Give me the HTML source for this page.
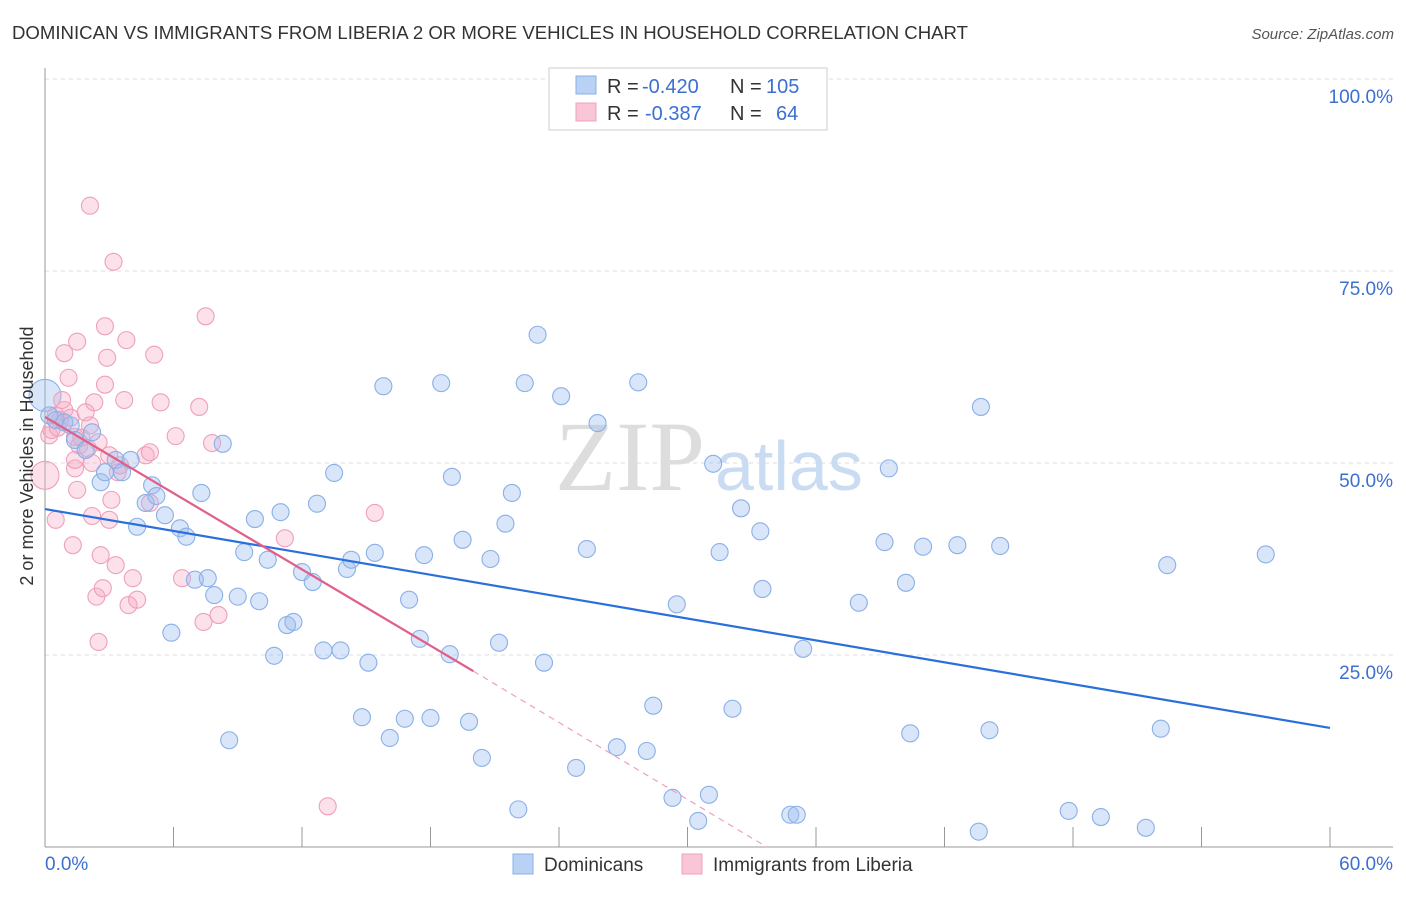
<!DOCTYPE html>
<html><head><meta charset="utf-8"><style>
body{margin:0;background:#fff;font-family:"Liberation Sans",sans-serif}
svg text{font-family:"Liberation Sans",sans-serif}
</style></head><body>
<svg id="chart" width="1406" height="892" xmlns="http://www.w3.org/2000/svg">
<text x="12" y="39" font-size="18.6" fill="#333">DOMINICAN VS IMMIGRANTS FROM LIBERIA 2 OR MORE VEHICLES IN HOUSEHOLD CORRELATION CHART</text>
<text x="1394" y="39" font-size="15" fill="#555" font-style="italic" text-anchor="end">Source: ZipAtlas.com</text>
<g id="grid"></g>
<text x="555" y="490" font-size="100" fill="#ddd" style="font-family:'Liberation Serif',serif">ZIP</text>
<text x="715" y="490" font-size="70" fill="#c9dcf2">atlas</text>
<g id="pts"></g>
<g id="lines"></g>
<text x="33" y="456" font-size="18" fill="#333" text-anchor="middle" transform="rotate(-90 33 456)">2 or more Vehicles in Household</text>
<g>
<rect x="549" y="68" width="278" height="62" fill="#fff" stroke="#ccc"/>
<rect x="576" y="76" width="20" height="18" fill="#b9d1f5" stroke="#8ab0e8"/>
<rect x="576" y="103" width="20" height="18" fill="#f8c6d6" stroke="#eea0bb"/>
<text x="607" y="93" font-size="20" fill="#333">R =</text>
<text x="642" y="93" font-size="20" fill="#3b6fd0">-0.420</text>
<text x="730" y="93" font-size="20" fill="#333">N =</text>
<text x="766" y="93" font-size="20" fill="#3b6fd0">105</text>
<text x="607" y="120" font-size="20" fill="#333">R =</text>
<text x="645" y="120" font-size="20" fill="#3b6fd0">-0.387</text>
<text x="730" y="120" font-size="20" fill="#333">N =</text>
<text x="776" y="120" font-size="20" fill="#3b6fd0">64</text>
</g>
<g>
<rect x="513" y="854" width="20" height="20" fill="#b9d1f5" stroke="#8ab0e8"/>
<text x="544" y="871" font-size="19" fill="#333">Dominicans</text>
<rect x="682" y="854" width="20" height="20" fill="#f8c6d6" stroke="#eea0bb"/>
<text x="713" y="871" font-size="19" fill="#333">Immigrants from Liberia</text>
</g>
</svg>
<script>
const blueX=[0.2,0.5,0.9,1.2,1.4,1.9,2.2,2.6,2.8,3.3,3.6,4.0,4.3,4.7,5.0,5.2,5.6,6.3,6.6,7.0,5.9,7.3,7.6,7.9,8.3,8.6,9.0,9.8,10.0,9.3,10.4,10.7,11.0,11.3,11.6,12.0,12.5,12.7,13.0,13.5,13.8,14.1,14.3,14.8,15.1,15.4,15.8,16.1,16.8,17.0,17.5,17.7,18.0,18.5,18.9,19.0,19.5,19.8,20.4,20.8,21.2,21.5,21.8,22.1,22.4,23.3,24.1,25.3,25.8,26.7,27.7,28.1,28.4,23.0,24.8,29.3,29.5,30.5,31.0,31.2,31.5,32.1,32.5,33.4,33.5,34.8,35.1,35.4,38.0,39.2,39.4,40.2,40.4,41.0,42.6,43.7,43.6,44.1,44.6,47.8,49.3,51.4,52.1,52.4,57.0];
const blueY=[56.2,55.6,55.3,54.9,53.0,51.7,54.0,47.5,48.8,50.4,48.8,50.4,41.7,44.8,47.1,45.7,43.2,41.5,40.4,34.8,27.9,46.1,35.0,32.8,52.5,13.9,32.6,42.7,32.0,38.4,37.4,24.9,43.6,28.9,29.3,35.8,34.5,44.7,25.6,48.7,25.6,36.2,37.4,16.9,24.0,38.3,60.0,14.2,16.7,32.2,27.1,38.0,16.8,60.4,25.1,48.2,40.0,16.3,11.6,37.5,26.6,42.1,46.1,4.9,60.4,24.0,58.7,38.8,55.2,13.0,60.5,12.5,18.4,66.7,10.3,6.4,31.6,3.4,6.8,49.9,38.4,18.0,44.1,41.1,33.6,4.2,4.2,25.8,31.8,39.7,49.3,34.4,14.8,39.1,39.3,57.3,2.0,15.2,39.2,4.7,3.9,2.5,15.4,36.7,38.1];
const pinkX=[0.2,0.3,0.5,0.7,0.9,0.9,1.1,1.2,1.3,1.4,1.4,1.5,1.6,1.7,1.9,2.0,2.1,2.2,2.3,2.4,2.5,2.6,2.7,2.8,2.8,2.9,3.0,3.1,3.3,3.4,3.5,3.7,3.8,3.9,4.1,4.3,4.7,4.9,5.1,5.4,3.2,6.1,6.4,7.2,7.4,7.5,7.8,8.1,0.5,11.2,13.2,15.4,0.8,2.2,1.4,3.0,4.9,2.1,0.6,2.5,1.5];
const pinkY=[53.6,54.3,56.2,55.6,56.9,64.3,61.1,55.9,39.3,49.3,50.4,65.8,52.3,53.3,56.6,51.9,83.5,50.0,57.9,32.6,26.7,38.0,33.7,60.2,67.8,63.7,42.6,45.2,36.7,48.8,49.7,58.2,66.0,31.5,35.0,32.2,51.0,44.8,64.1,57.9,76.2,53.5,35.0,57.3,29.3,69.1,52.6,30.2,42.6,40.2,5.3,43.5,58.2,43.1,53.4,51.0,51.4,54.9,54.6,52.7,46.5];
const bigBlue=[[0,58.8]], bigPink=[[0,48.4]];
const blueTrend=[0,44.0,60,15.5];
const pinkTrend=[0,56.0,20,22.9,33.7,0];
const xTicks=[0,6,12,18,24,30,36,42,48,54,60];
const yTicks=[25,50,75,100];
const yLabels=["25.0%","50.0%","75.0%","100.0%"];
const NS="http://www.w3.org/2000/svg";
const sx=v=>45+v/60*1285, sy=v=>847-v/100*768;
function mk(tag,attrs,parent){const e=document.createElementNS(NS,tag);for(const k in attrs)e.setAttribute(k,attrs[k]);parent.appendChild(e);return e;}
const grid=document.getElementById('grid');
yTicks.forEach((t,i)=>{
 const l=mk('line',{x1:45,x2:1393,y1:sy(t),y2:sy(t),stroke:'#ddd','stroke-dasharray':'4,4'},grid);
 
 
 const tx=mk('text',{x:1393,y:sy(t)+24,'font-size':19,fill:'#3b6fd0','text-anchor':'end'},grid);
 tx.textContent=yLabels[i];
 
 
});
mk('line',{x1:45,x2:45,y1:68,y2:847,stroke:'#999'},grid);
mk('line',{x1:45,x2:1393,y1:847,y2:847,stroke:'#999'},grid);
xTicks.forEach(t=>{const l=mk('line',{x1:sx(t),x2:sx(t),y1:827,y2:847,stroke:'#999'},grid);
 
 });
let t0=mk('text',{x:45,y:870,'font-size':19,fill:'#3b6fd0'},grid);t0.textContent='0.0%';


let t1=mk('text',{x:1393,y:870,'font-size':19,fill:'#3b6fd0','text-anchor':'end'},grid);t1.textContent='60.0%';


const pts=document.getElementById('pts');
function dot(x,y,r,fill,stroke,name){const c=mk('circle',{cx:sx(x),cy:sy(y),r:r,fill:fill,stroke:stroke,'stroke-width':1.1},pts);
 
 }
bigPink.forEach(p=>dot(p[0],p[1],14,'rgba(245,170,195,0.35)','#eea0bb','liberia-point'));
bigBlue.forEach(p=>dot(p[0],p[1],16,'rgba(160,190,240,0.4)','#8ab0e8','dominican-point'));
pinkX.forEach((x,i)=>dot(x,pinkY[i],8.5,'rgba(245,170,195,0.35)','#eea0bb','liberia-point'));
blueX.forEach((x,i)=>dot(x,blueY[i],8.5,'rgba(160,190,240,0.4)','#8ab0e8','dominican-point'));
const lines=document.getElementById('lines');
let bl=mk('line',{x1:sx(blueTrend[0]),y1:sy(blueTrend[1]),x2:sx(blueTrend[2]),y2:sy(blueTrend[3]),stroke:'#2a6fdb','stroke-width':2.2},lines);


let pl=mk('line',{x1:sx(pinkTrend[0]),y1:sy(pinkTrend[1]),x2:sx(pinkTrend[2]),y2:sy(pinkTrend[3]),stroke:'#e0608a','stroke-width':2.2},lines);


let pd=mk('line',{x1:sx(pinkTrend[2]),y1:sy(pinkTrend[3]),x2:sx(pinkTrend[4]),y2:sy(pinkTrend[5]),stroke:'#eea0bb','stroke-width':1.2,'stroke-dasharray':'6,5'},lines);


</script>
</body></html>
